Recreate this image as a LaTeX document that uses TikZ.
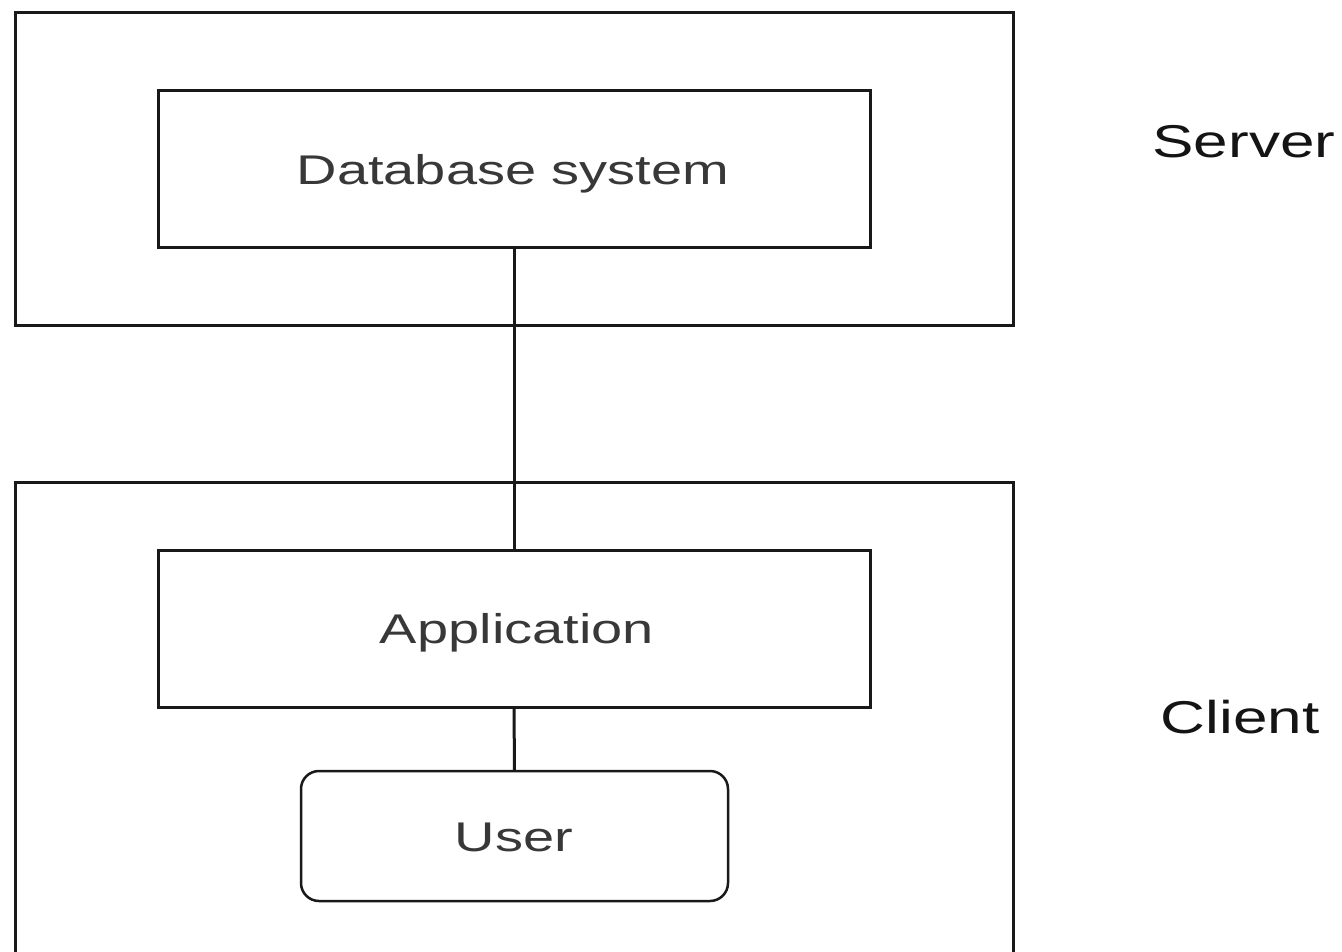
\documentclass[tikz,border=0pt]{standalone}
\usepackage{fontspec}
\setmainfont{Liberation Sans}[FakeStretch=1.35]
\begin{document}
\begin{tikzpicture}[x=1pt,y=-1pt,
  box/.style={draw=black!90, line width=3pt, rectangle, inner sep=0pt, outer sep=0pt},
  rbox/.style={box, rounded corners=18pt},
  intext/.style={anchor=base, inner sep=0pt, text=black!78, font=\fontsize{41.5}{50}\selectfont},
  sidetext/.style={anchor=base, inner sep=0pt, text=black!92, font=\fontsize{46}{55}\selectfont}]
\useasboundingbox (0,0) rectangle (1342,951);
\fill[white] (0,0) rectangle (1342,951);
\clip (0,0) rectangle (1342,951);
% outer boxes
\node[box, minimum width=998pt, minimum height=313pt] (server) at (514,168.5) {};
\node[box, minimum width=998pt, minimum height=490pt] (client) at (514,727) {};
% inner boxes
\node[box, minimum width=712pt, minimum height=157pt] (db) at (514,168.5) {};
\node[box, minimum width=712pt, minimum height=157pt] (app) at (514,628.5) {};
\node[rbox, line width=2.5pt, minimum width=427pt, minimum height=130pt] (user) at (514.5,836) {};
% connectors
\draw[line width=3pt, black!90] (db.south) -- (app.north);
\draw[line width=3pt, black!90] (app.south) -- (user.north);
% texts
\node[intext] (dbt) at (513,184) {Database system};
\node[intext] (appt) at (517,643) {Application};
\node[intext] (usert) at (514,851) {User};
\node[sidetext] (servert) at (1244,157) {Server};
\node[sidetext] (clientt) at (1240,733) {Client};
\end{tikzpicture}
\end{document}
